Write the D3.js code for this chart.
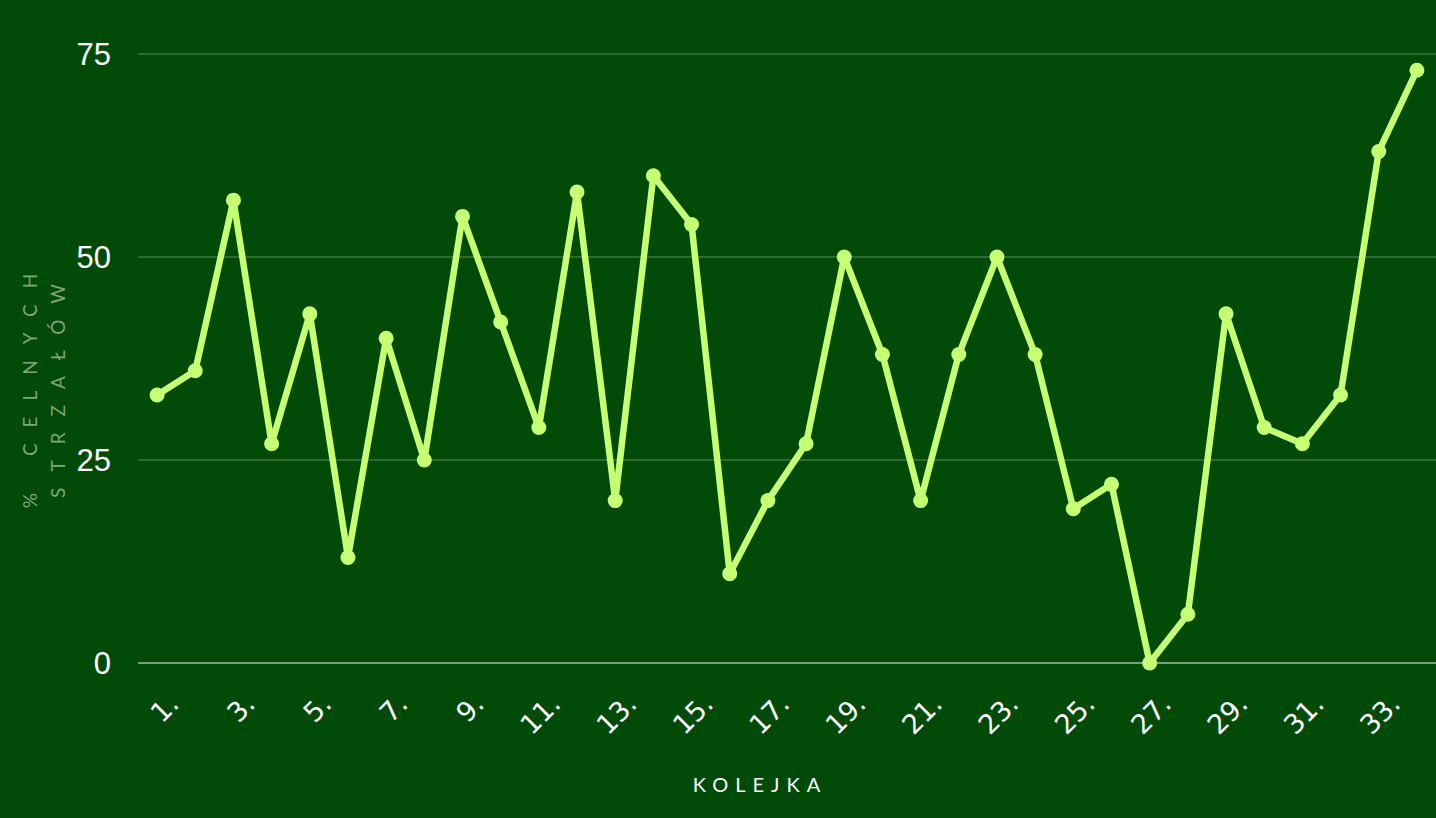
<!DOCTYPE html>
<html><head><meta charset="utf-8">
<script src="https://cdn.jsdelivr.net/npm/d3@7"></script>
<style>
html,body{margin:0;padding:0;background:#024a07;}
svg{display:block;}
</style></head>
<body>
<svg id="chart" width="1436" height="818"></svg>
<script>
const categories = Array.from({length:34}, (_, i) => (i + 1) + ".");
const values = [33,36,57,27,43,13,40,25,55,42,29,58,20,60,54,11,20,27,50,38,20,38,50,38,19,22,0,6,43,29,27,33,63,73];
const yTicks = [0,25,50,75];
const xTitle = "KOLEJKA";
const yTitleLines = ["% CELNYCH","STRZAŁÓW"];

const W = 1436, H = 818;
const margin = {left:138, right:0, top:54, bottom:155};
const svg = d3.select("#chart");
svg.append("rect").attr("width",W).attr("height",H).attr("fill","#024a07");

const x = d3.scalePoint().domain(categories).range([margin.left, W - margin.right]).padding(0.5);
const y = d3.scaleLinear().domain([0,75]).range([663, 54]);

// grid
svg.append("g").selectAll("line").data(yTicks).join("line")
  .attr("x1", margin.left).attr("x2", W)
  .attr("y1", d => y(d)).attr("y2", d => y(d))
  .attr("stroke", d => d === 0 ? "#a8b8a8" : "#5f8a5f")
  .attr("stroke-width", d => d === 0 ? 1.5 : 1);

// y tick labels
svg.append("g").selectAll("text").data(yTicks).join("text")
  .attr("x", 111).attr("y", d => y(d)).attr("dy","0.35em")
  .attr("text-anchor","end").attr("fill","#ffffff")
  .attr("font-family","Liberation Sans, Arial, sans-serif").attr("font-size", 31)
  .text(d => d);

// x tick labels
const xAxis = d3.axisBottom(x).tickSize(0).tickFormat((d,i) => i % 2 === 0 ? d : "");
const gx = svg.append("g").attr("transform", `translate(0,${y(0)})`).call(xAxis);
gx.select(".domain").remove();
gx.selectAll("text")
  .attr("fill","#ffffff")
  .attr("font-family","DejaVu Sans, sans-serif").attr("font-size", 27)
  .attr("text-anchor","end")
  .attr("transform", d => `translate(${16},${36}) rotate(-45)`)
  .attr("y", 0).attr("dy","0.35em");

// line
svg.append("path").datum(values)
  .attr("fill","none").attr("stroke","#c6ff72").attr("stroke-width",6.5)
  .attr("stroke-linejoin","round")
  .attr("d", d3.line().x((d,i) => x(categories[i])).y(d => y(d)));

svg.append("g").selectAll("circle").data(values).join("circle")
  .attr("cx",(d,i) => x(categories[i])).attr("cy", d => y(d)).attr("r",7.5)
  .attr("fill","#c6ff72");

// x title
svg.append("text").attr("x", 760).attr("y", 792).attr("text-anchor","middle")
  .attr("fill","#ffffff").attr("font-family","Lato, sans-serif").attr("font-size",20)
  .attr("letter-spacing","7px").text(xTitle);

// y title
const yt = svg.append("text").attr("transform","translate(0,383) rotate(-90)")
  .attr("text-anchor","middle").attr("fill","#7fa57a")
  .attr("font-family","Lato, sans-serif").attr("font-size",19).attr("letter-spacing","16px");
yt.selectAll("tspan").data(yTitleLines).join("tspan")
  .attr("x",0).attr("y",(d,i) => 37 + i*28).text(d => d);
</script>
</body></html>
